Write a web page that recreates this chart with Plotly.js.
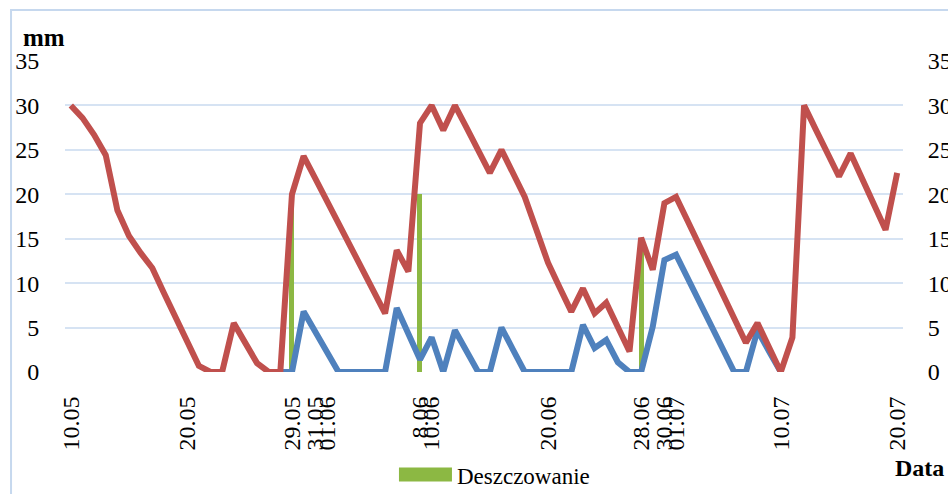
<!DOCTYPE html>
<html>
<head>
<meta charset="utf-8">
<script src="https://cdn.plot.ly/plotly-3.0.1.min.js"></script>
<style>
  html, body { margin: 0; padding: 0; background: #ffffff; }
  #chart { width: 948px; height: 494px; }
</style>
</head>
<body>
<div id="chart"></div>
<script>
// Measurement dates (category axis); 8 June appears twice (before/after irrigation), 9 June missing
const dates = [
  "10.05","11.05","12.05","13.05","14.05","15.05","16.05","17.05","18.05","19.05",
  "20.05","21.05","22.05","23.05","24.05","25.05","26.05","27.05","28.05","29.05",
  "30.05","31.05","01.06","02.06","03.06","04.06","05.06","06.06","07.06","08.06",
  "8.06","10.06","11.06","12.06","13.06","14.06","15.06","16.06","17.06","18.06",
  "19.06","20.06","21.06","22.06","23.06","24.06","25.06","26.06","27.06","28.06",
  "29.06","30.06","01.07","02.07","03.07","04.07","05.07","06.07","07.07","08.07",
  "09.07","10.07","11.07","12.07","13.07","14.07","15.07","16.07","17.07","18.07",
  "19.07","20.07"
];

// Red series
const redValues = [
  30, 28.6, 26.7, 24.4, 18.2, 15.3, 13.4, 11.7, 8.9, 6.1,
  3.3, 0.7, 0, 0, 5.5, 3.2, 1.0, 0, 0, 20,
  24.3, 21.8, 19.3, 16.8, 14.2, 11.7, 9.2, 6.6, 13.7, 11.3,
  28.0, 30, 27.2, 30, 27.5, 25.0, 22.4, 25.0, 22.4, 19.7,
  16.0, 12.3, 9.5, 6.8, 9.4, 6.6, 7.8, 5.0, 2.3, 15.1,
  11.5, 19.0, 19.7, 17.0, 14.2, 11.5, 8.8, 6.0, 3.3, 5.5,
  2.7, 0, 3.9, 30, 27.3, 24.6, 22.0, 24.6, 21.7, 18.9,
  16.0, 22.4
];

// Blue series
const blueValues = [
  null, null, null, null, null, null, null, null, null, null,
  null, null, null, null, null, null, null, 0, 0, 0,
  6.8, 4.5, 2.2, 0, 0, 0, 0, 0, 7.2, 4.3,
  1.4, 3.9, 0, 4.7, 2.3, 0, 0, 5.0, 2.5, 0,
  0, 0, 0, 0, 5.3, 2.7, 3.6, 1.1, 0, 0,
  5.1, 12.6, 13.2, 10.5, 7.9, 5.3, 2.6, 0, 0, 4.7,
  2.3, 0, null, null, null, null, null, null, null, null,
  null, null
];

// Irrigation (Deszczowanie)
const irrigationDates = ["29.05", "8.06", "28.06"];
const irrigationValues = [20, 20, 15];

// Axis labels
const tickDates = ["10.05","20.05","29.05","31.05","01.06","8.06","10.06","20.06","28.06","30.06","01.07","10.07","20.07"];
const tickLabels = ["10.05","20.05","29.05","31.05","01.06","8.06","10.06","20.06","28.06","30.06","01.07","10.07","20.07"];
const yTicks = [0, 5, 10, 15, 20, 25, 30, 35];

const FONT = "Liberation Serif, Times New Roman, serif";

const traces = [
  {
    type: "bar",
    name: "Deszczowanie",
    x: irrigationDates,
    y: irrigationValues,
    yaxis: "y",
    width: 0.43,
    marker: { color: "#8cb843", line: { width: 0 } },
    showlegend: true,
    hoverinfo: "skip"
  },
  {
    type: "scatter",
    mode: "lines",
    name: "blue",
    x: dates,
    y: blueValues,
    yaxis: "y2",
    line: { color: "#4f81bd", width: 6, shape: "linear" },
    connectgaps: false,
    cliponaxis: false,
    showlegend: false
  },
  {
    type: "scatter",
    mode: "lines",
    name: "red",
    x: dates,
    y: redValues,
    yaxis: "y2",
    line: { color: "#c0504d", width: 6, shape: "linear" },
    cliponaxis: false,
    showlegend: false
  }
];

const layout = {
  width: 948,
  height: 494,
  margin: { l: 65, r: 45, t: 61, b: 122, autoexpand: false },
  paper_bgcolor: "#ffffff",
  plot_bgcolor: "#ffffff",
  font: { family: FONT, size: 24, color: "#000000" },
  showlegend: true,
  legend: {
    x: 0.42, xanchor: "left",
    y: -0.33, yanchor: "middle",
    orientation: "h",
    font: { family: FONT, size: 23, color: "#000000" },
    bgcolor: "rgba(0,0,0,0)"
  },
  bargap: 0,
  xaxis: {
    type: "category",
    categoryorder: "array",
    categoryarray: dates,
    range: [-0.5, 71.5],
    tickmode: "array",
    tickvals: tickDates,
    ticktext: tickLabels,
    tickangle: -90,
    ticks: "outside",
    ticklen: 14,
    tickcolor: "rgba(0,0,0,0)",
    showgrid: false,
    zeroline: false,
    showline: false,
    automargin: false,
    tickfont: { family: FONT, size: 24, color: "#000000" },
    fixedrange: true
  },
  yaxis: {
    range: [0, 35],
    tickmode: "array",
    tickvals: yTicks,
    ticks: "outside",
    ticklen: 20,
    tickcolor: "rgba(0,0,0,0)",
    showgrid: true,
    gridcolor: "#d6e3f3",
    gridwidth: 2,
    zeroline: false,
    showline: false,
    automargin: false,
    tickfont: { family: FONT, size: 24, color: "#000000" },
    fixedrange: true
  },
  yaxis2: {
    range: [0, 35],
    overlaying: "y",
    side: "right",
    tickmode: "array",
    tickvals: yTicks,
    ticks: "outside",
    ticklen: 19,
    tickcolor: "rgba(0,0,0,0)",
    showgrid: false,
    zeroline: false,
    showline: false,
    automargin: false,
    tickfont: { family: FONT, size: 24, color: "#000000" },
    fixedrange: true
  },
  annotations: [
    {
      text: "<b>mm</b>",
      xref: "paper", yref: "paper",
      x: -0.052, y: 1.077,
      xanchor: "left", yanchor: "middle",
      showarrow: false,
      font: { family: FONT, size: 25, color: "#000000" }
    },
    {
      text: "<b>Data</b>",
      xref: "paper", yref: "paper",
      x: 0.988, y: -0.309,
      xanchor: "left", yanchor: "middle",
      showarrow: false,
      font: { family: FONT, size: 24, color: "#000000" }
    }
  ],
  shapes: [
    {
      type: "rect",
      xref: "paper", yref: "paper",
      x0: -0.0644, x1: 1.2,
      y0: -0.6, y1: 1.164,
      line: { color: "#c6d8ee", width: 2 },
      fillcolor: "rgba(0,0,0,0)",
      layer: "below"
    }
  ]
};

Plotly.newPlot("chart", traces, layout, { displayModeBar: false, staticPlot: true }).then(function (gd) {
  // widen the legend swatch of the irrigation bars to look like the reference key
  gd.querySelectorAll(".legend .scrollbox, .legend").forEach(function (el) {
    el.removeAttribute("clip-path");
  });
  gd.querySelectorAll(".legend .legendpoints path").forEach(function (p) {
    p.setAttribute("d", "M-38,-7H15V7H-38Z");
  });
});
</script>
</body>
</html>
